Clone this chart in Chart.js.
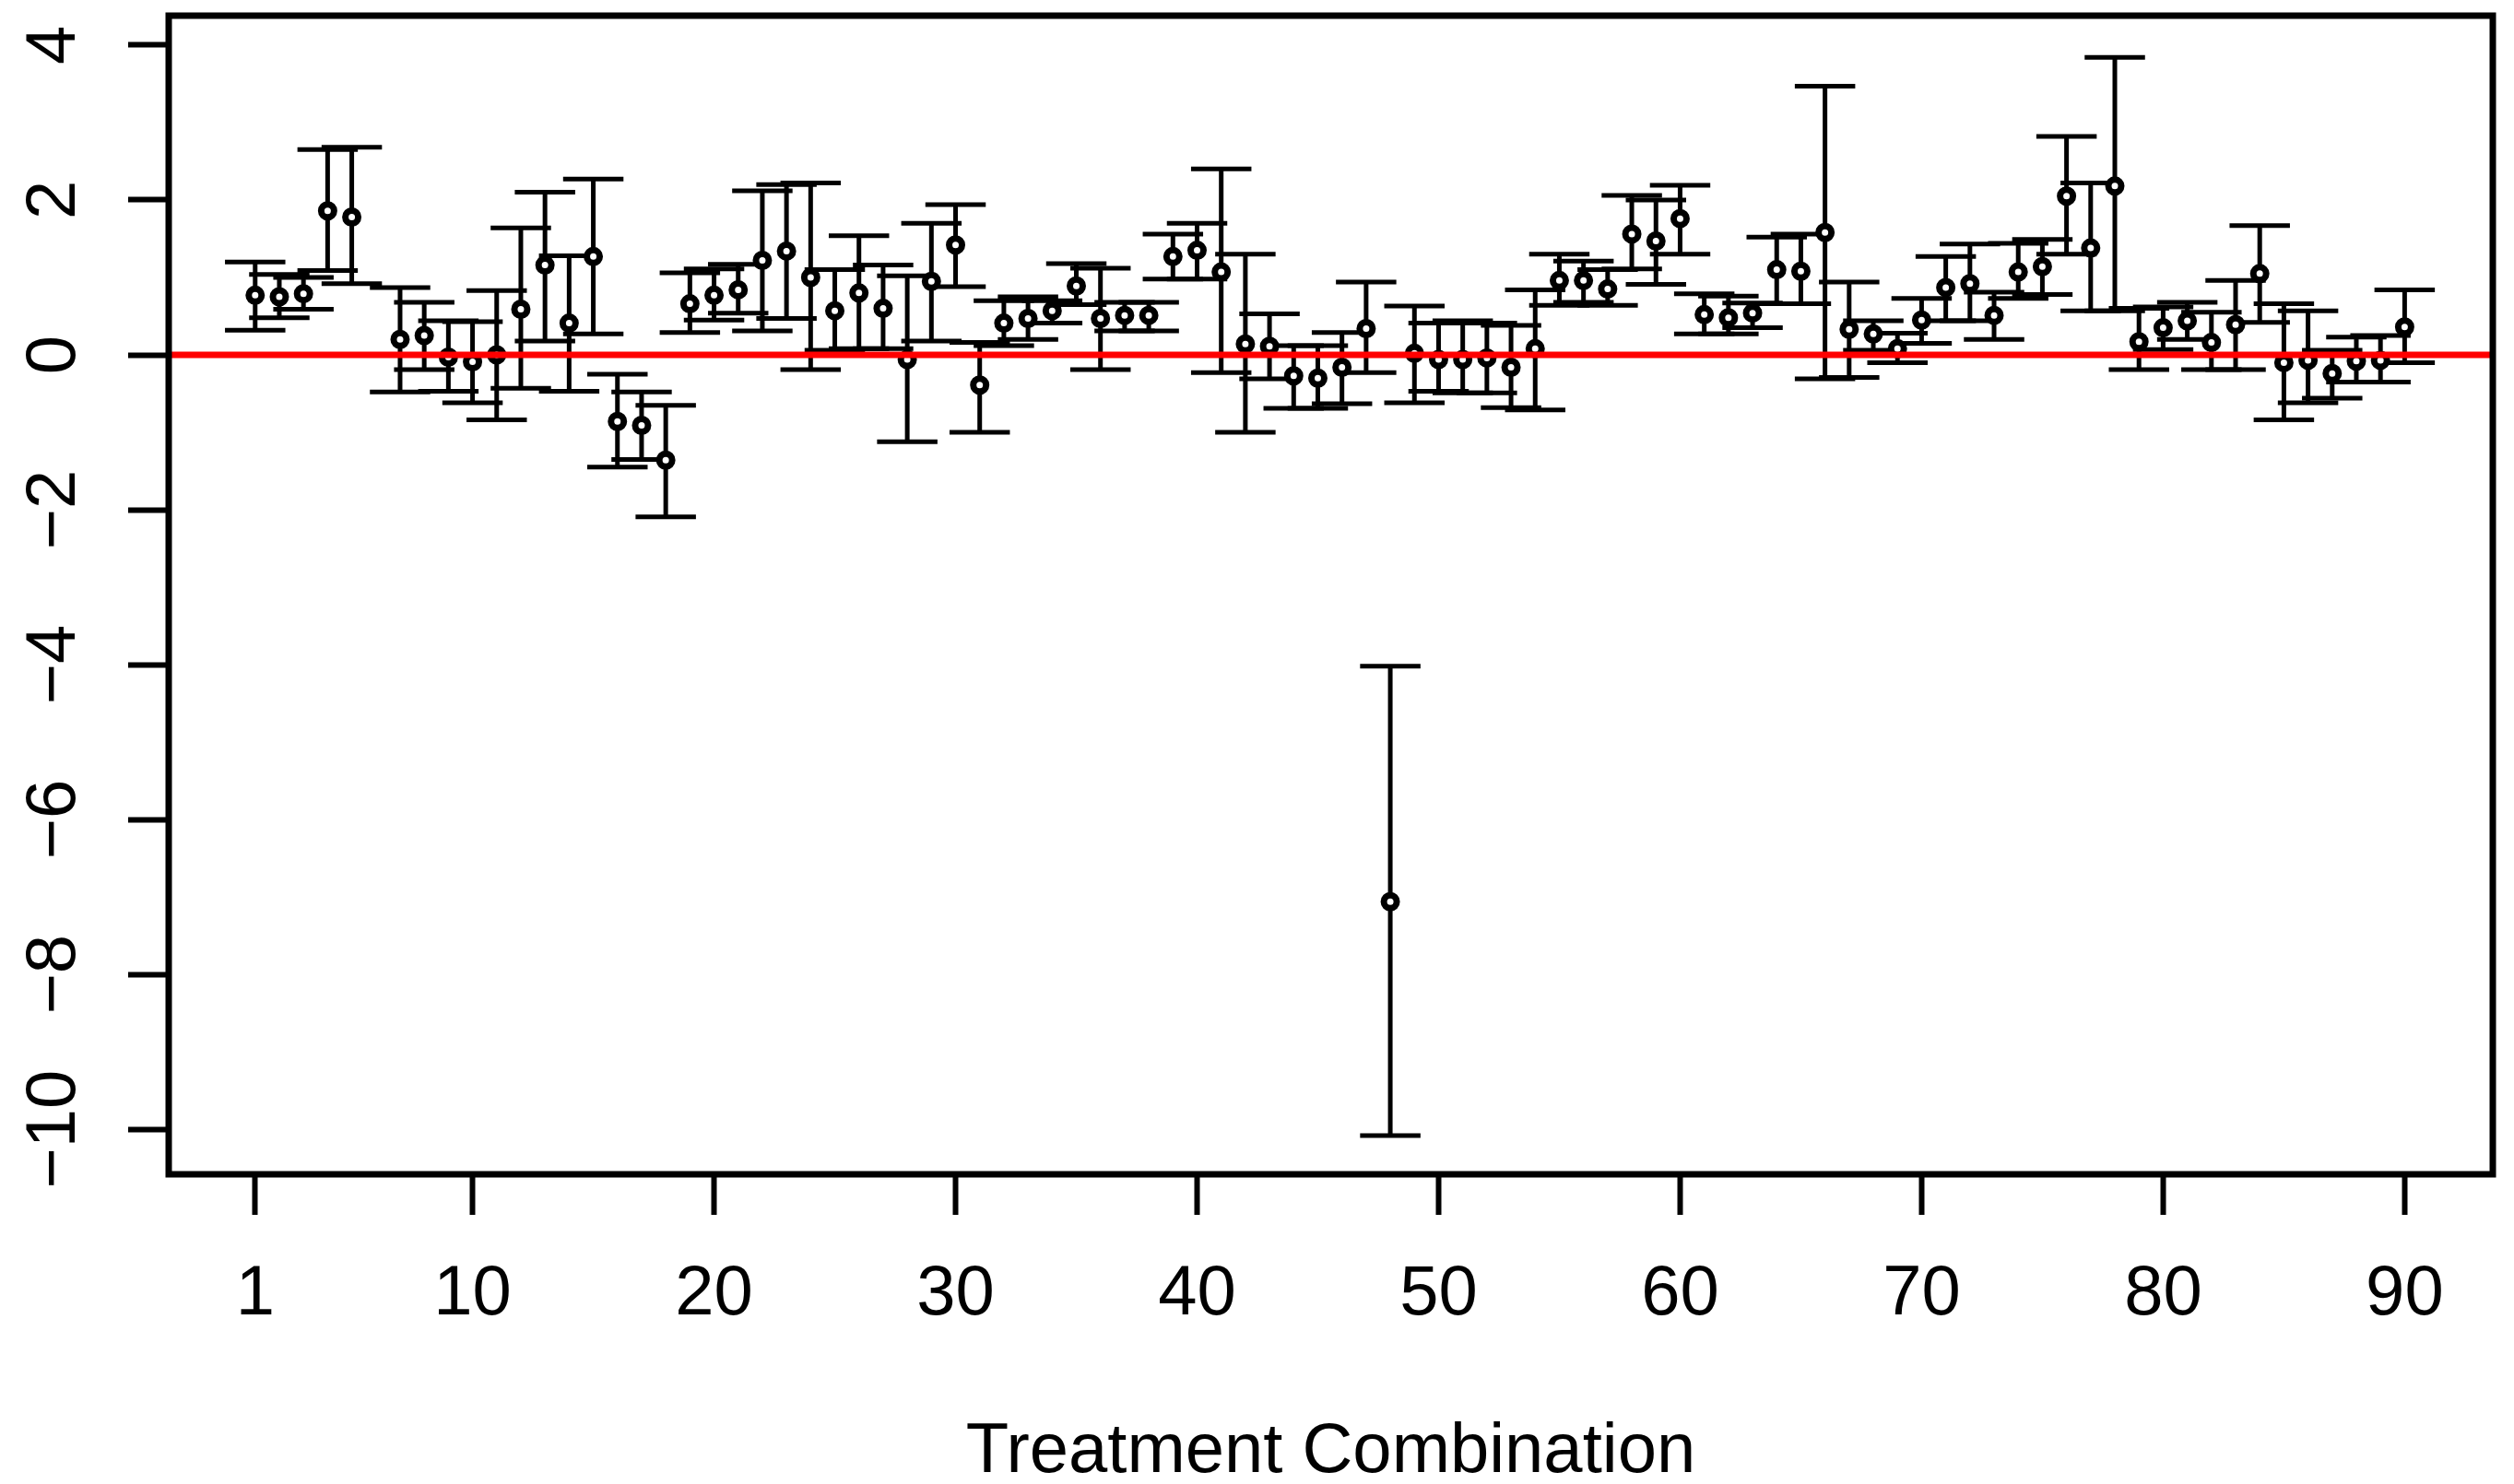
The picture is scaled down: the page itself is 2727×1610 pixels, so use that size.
<!DOCTYPE html>
<html>
<head>
<meta charset="utf-8">
<title>Treatment Combination</title>
<script src="https://cdn.jsdelivr.net/npm/chart.js@4.4.1/dist/chart.umd.min.js"></script>
<style>
  html, body { margin: 0; padding: 0; background: #fff; }
  canvas { display: block; }
</style>
</head>
<body>
<canvas id="chart" width="2727" height="1610" style="width:2727px;height:1610px"></canvas>
<script>
// treatment combinations 1..90 (combination 6 has no estimate)
const treatment = Array.from({ length: 90 }, (_, i) => i + 1);

const estimate = [
  0.77, 0.75, 0.79, 1.86, 1.78, null, 0.20, 0.25, -0.03, -0.09,
  0.00, 0.59, 1.16, 0.41, 1.27, -0.86, -0.91, -1.36, 0.66, 0.77,
  0.84, 1.22, 1.34, 1.00, 0.57, 0.80, 0.60, -0.06, 0.95, 1.42,
  -0.39, 0.41, 0.47, 0.57, 0.89, 0.47, 0.51, 0.51, 1.27, 1.35,
  1.07, 0.14, 0.11, -0.27, -0.30, -0.16, 0.34, -7.06, 0.02, -0.06,
  -0.06, -0.04, -0.16, 0.08, 0.96, 0.96, 0.85, 1.56, 1.47, 1.76,
  0.52, 0.48, 0.54, 1.10, 1.08, 1.58, 0.33, 0.27, 0.08, 0.45,
  0.87, 0.92, 0.51, 1.07, 1.14, 2.05, 1.38, 2.18, 0.17, 0.35,
  0.44, 0.16, 0.39, 1.05, -0.10, -0.07, -0.24, -0.08, -0.07, 0.36
];

const lower = [
  0.32, 0.48, 0.59, 1.09, 0.92, null, -0.48, -0.19, -0.47, -0.62,
  -0.84, -0.43, 0.18, -0.47, 0.27, -1.45, -1.35, -2.09, 0.29, 0.45,
  0.54, 0.31, 0.47, -0.19, 0.06, 0.08, 0.08, -1.12, 0.18, 0.88,
  -1.00, 0.12, 0.20, 0.41, 0.65, -0.19, 0.31, 0.31, 0.98, 0.98,
  -0.23, -1.00, -0.31, -0.69, -0.69, -0.63, -0.23, -10.08, -0.62, -0.47,
  -0.49, -0.49, -0.68, -0.71, 0.64, 0.68, 0.64, 1.11, 0.91, 1.30,
  0.27, 0.27, 0.35, 0.66, 0.66, -0.31, -0.29, 0.06, -0.10, 0.15,
  0.44, 0.44, 0.20, 0.73, 0.78, 1.30, 0.57, 0.57, -0.19, 0.07,
  0.20, -0.19, -0.19, 0.42, -0.84, -0.62, -0.56, -0.35, -0.35, -0.10
];

const upper = [
  1.20, 1.04, 1.00, 2.65, 2.68, null, 0.87, 0.68, 0.44, 0.43,
  0.83, 1.64, 2.10, 1.28, 2.27, -0.25, -0.48, -0.65, 1.06, 1.11,
  1.17, 2.12, 2.20, 2.22, 1.10, 1.54, 1.16, 1.02, 1.70, 1.94,
  0.16, 0.70, 0.75, 0.70, 1.18, 1.12, 0.68, 0.68, 1.56, 1.70,
  2.40, 1.30, 0.53, 0.12, 0.12, 0.29, 0.94, -4.02, 0.63, 0.41,
  0.44, 0.41, 0.38, 0.84, 1.30, 1.21, 1.10, 2.06, 2.00, 2.19,
  0.79, 0.76, 0.67, 1.52, 1.56, 3.47, 0.94, 0.44, 0.28, 0.73,
  1.27, 1.43, 0.81, 1.44, 1.49, 2.82, 2.22, 3.84, 0.60, 0.62,
  0.68, 0.55, 0.96, 1.67, 0.66, 0.57, 0.06, 0.23, 0.25, 0.84
];

const xTicks = [1, 10, 20, 30, 40, 50, 60, 70, 80, 90];
const yTicks = [-10, -8, -6, -4, -2, 0, 2, 4];
const xRange = [-2.58, 93.65];
const yRange = [-10.58, 4.38];
const referenceLine = 0;
const capHalfWidth = 1.25; // half width of the error bar caps, in x units

const fontFamily = "'Liberation Sans', Arial, sans-serif";
const fontSize = 76;

// error bars drawn under the points, from the chart's own scales
const errorBars = {
  id: 'errorBars',
  beforeDatasetsDraw(chart) {
    const { ctx, scales: { x, y } } = chart;
    ctx.save();
    ctx.strokeStyle = '#000';
    ctx.lineWidth = 5;
    ctx.lineCap = 'butt';
    treatment.forEach((t, i) => {
      if (estimate[i] === null) return;
      const px = x.getPixelForValue(t);
      const lo = y.getPixelForValue(lower[i]);
      const hi = y.getPixelForValue(upper[i]);
      const c0 = x.getPixelForValue(t - capHalfWidth);
      const c1 = x.getPixelForValue(t + capHalfWidth);
      ctx.beginPath();
      ctx.moveTo(px, lo); ctx.lineTo(px, hi);
      ctx.moveTo(c0, lo); ctx.lineTo(c1, lo);
      ctx.moveTo(c0, hi); ctx.lineTo(c1, hi);
      ctx.stroke();
    });
    ctx.restore();
  }
};

// box around the plotting region
const plotBox = {
  id: 'plotBox',
  afterDraw(chart) {
    const { ctx, chartArea: a } = chart;
    ctx.save();
    ctx.strokeStyle = '#000';
    ctx.lineWidth = 7;
    ctx.lineJoin = 'miter';
    ctx.strokeRect(a.left, a.top, a.right - a.left, a.bottom - a.top);
    ctx.restore();
  }
};

const noEdgePadding = (scale) => {
  scale.paddingTop = 0;
  scale.paddingBottom = 0;
  scale.paddingLeft = 0;
  scale.paddingRight = 0;
};

new Chart(document.getElementById('chart'), {
  type: 'scatter',
  data: {
    datasets: [
      {
        label: 'Reference',
        type: 'line',
        data: [{ x: xRange[0], y: referenceLine }, { x: xRange[1], y: referenceLine }],
        borderColor: '#ff0000',
        borderWidth: 7,
        pointRadius: 0,
        order: 0
      },
      {
        label: 'Estimate',
        data: treatment.map((t, i) => ({ x: t, y: estimate[i] })),
        pointStyle: 'circle',
        pointRadius: 7,
        pointBorderWidth: 7,
        pointBackgroundColor: '#fff',
        pointBorderColor: '#000',
        order: 1
      }
    ]
  },
  options: {
    responsive: false,
    devicePixelRatio: 1,
    animation: false,
    events: [],
    layout: { padding: { top: 17, right: 23, bottom: 0, left: 0 } },
    plugins: {
      legend: { display: false },
      tooltip: { enabled: false }
    },
    scales: {
      x: {
        type: 'linear',
        min: xRange[0],
        max: xRange[1],
        afterBuildTicks: (scale) => { scale.ticks = xTicks.map(v => ({ value: v })); },
        afterFit: (scale) => { scale.height = 336; noEdgePadding(scale); },
        grid: { display: true, drawOnChartArea: false, drawTicks: true, tickLength: 44, tickWidth: 6, tickColor: '#000' },
        border: { display: false },
        ticks: {
          autoSkip: false,
          maxRotation: 0,
          minRotation: 0,
          padding: 41,
          color: '#000',
          font: { family: fontFamily, size: fontSize }
        },
        title: {
          display: true,
          text: 'Treatment Combination',
          color: '#000',
          font: { family: fontFamily, size: fontSize, lineHeight: 0.8 },
          padding: { top: 0, bottom: 4 }
        }
      },
      y: {
        type: 'linear',
        min: yRange[0],
        max: yRange[1],
        afterBuildTicks: (scale) => { scale.ticks = yTicks.map(v => ({ value: v })); },
        afterFit: (scale) => { scale.width = 183; noEdgePadding(scale); },
        grid: { display: true, drawOnChartArea: false, drawTicks: true, tickLength: 44, tickWidth: 6, tickColor: '#000' },
        border: { display: false },
        ticks: {
          autoSkip: false,
          minRotation: 90,
          maxRotation: 90,
          crossAlign: 'center',
          padding: 14,
          color: '#000',
          font: { family: fontFamily, size: fontSize },
          callback: (v) => (v < 0 ? '\u2212' + Math.abs(v) : String(v))
        }
      }
    }
  },
  plugins: [errorBars, plotBox]
});
</script>
</body>
</html>
